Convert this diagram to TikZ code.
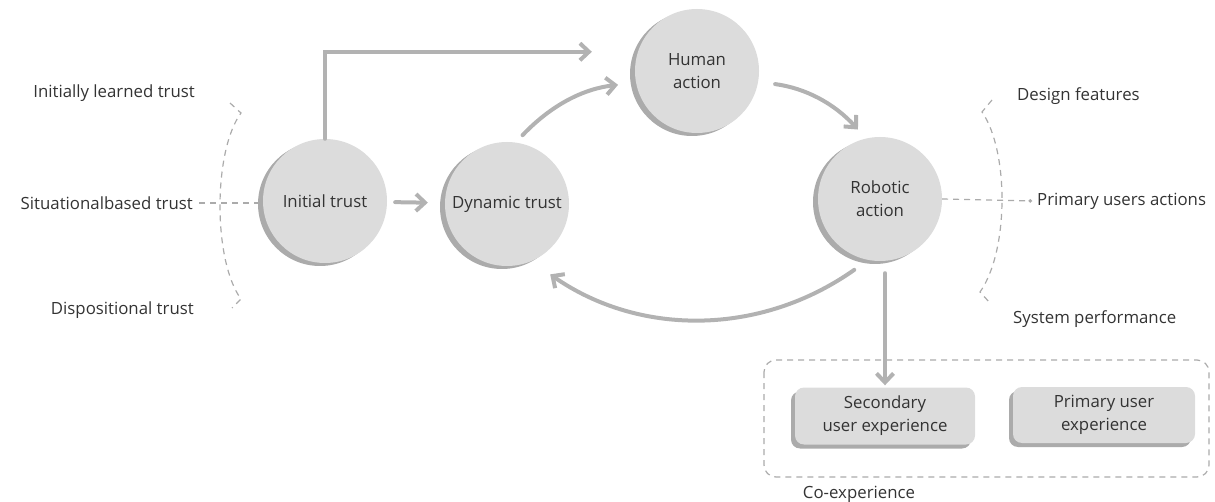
\documentclass[tikz,border=0pt]{standalone}
\usepackage{fontspec}
\setmainfont{Open Sans}
\usetikzlibrary{arrows.meta,calc}

\definecolor{circfill}{HTML}{DCDCDC}
\definecolor{circshade}{HTML}{ABABAB}
\definecolor{flowgray}{HTML}{B2B2B2}
\definecolor{dashgray}{HTML}{ABABAB}
\definecolor{labelgray}{HTML}{333333}

\tikzset{
  trustcircle/.style={circle, fill=circfill, minimum size=124pt, inner sep=0pt,
    align=center, text=labelgray, font=\fontsize{16.8}{23}\selectfont,
    preaction={fill=circshade, transform canvas={xshift=-5pt,yshift=-3pt}}},
  expbox/.style={rounded corners=9pt, fill=circfill, minimum width=180pt,
    minimum height=57pt, inner sep=0pt, align=center, text=labelgray,
    font=\fontsize{16.8}{23}\selectfont,
    preaction={fill=circshade, rounded corners=9pt, transform canvas={xshift=-4pt,yshift=-4pt}}},
  flowarrow/.style={draw=flowgray, line width=4pt, line cap=round,
    -{Straight Barb[length=9pt,width=17pt]}},
  dashline/.style={draw=dashgray, line width=1.2pt, dash pattern=on 6pt off 5pt},
  sidelabel/.style={text=labelgray, font=\fontsize{16.8}{20}\selectfont, inner sep=0pt},
}

\begin{document}
\begin{tikzpicture}[x=1pt,y=1pt]
  \useasboundingbox (0,0) rectangle (1215,501);

  %%%%% circles %%%%%
  \node[trustcircle] (initial) at (325,300) {Initial trust};
  \node[trustcircle] (dynamic) at (507,297) {Dynamic trust};
  \node[trustcircle] (human) at (697,430) {Human\\action};
  \node[trustcircle] (robotic) at (880,302) {Robotic\\action};

  %%%%% side labels %%%%%
  \node[sidelabel, anchor=east] (learned) at (195,408) {Initially learned trust};
  \node[sidelabel, anchor=east] (situational) at (193,298) {Situationalbased trust};
  \node[sidelabel, anchor=east] (dispositional) at (194,191) {Dispositional trust};

  \node[sidelabel, anchor=west] (design) at (1017,405) {Design features};
  \node[sidelabel, anchor=west] (pactions) at (1037,300) {Primary users actions};
  \node[sidelabel, anchor=west] (sysperf) at (1013,182) {System performance};

  %%%%% co-experience %%%%%
  \draw[dashline, rounded corners=12pt] (764,141) rectangle (1209,24);
  \node[expbox] (secondary) at (885,85) {Secondary\\user experience};
  \node[expbox, minimum width=182pt, minimum height=56pt] (primary) at (1104,86) {Primary user\\experience};
  \node[sidelabel] (coexp) at (859,7) {Co-experience};

  %%%%% brackets %%%%%
  \draw[dashline] (230,398) -- (241,388) .. controls (213,350) and (213,240) .. (241,202) -- (232,193);
  \draw[dashline] (992,401) -- (982,389) .. controls (1009,350) and (1009,250) .. (980,209) -- (990,198);
  \draw[dashline] ([xshift=6pt]situational.east) -- (situational.east -| initial.west);
  \draw[dashline, -{Circle[length=3.5pt]}] (robotic.east) -- ([xshift=-5pt]pactions.west);

  %%%%% flow %%%%%
  \draw[flowarrow, shorten <=8pt, shorten >=17pt] (initial) -- (dynamic);
  \draw[flowarrow, shorten >=46pt] (initial.north) |- (human.162);
  \draw[flowarrow, shorten <=10pt, shorten >=18pt] (dynamic.82) to[bend left=20] (human.191);
  \draw[flowarrow, shorten <=17pt, shorten >=12pt] (human.350) to[bend left=20] (robotic.103);
  \draw[flowarrow, shorten <=17pt, shorten >=23pt] (robotic.259) to[bend left=35] (dynamic.293);
  \draw[flowarrow, shorten <=12pt, shorten >=2pt] (secondary.north |- robotic.south) -- (secondary.north);
\end{tikzpicture}
\end{document}
